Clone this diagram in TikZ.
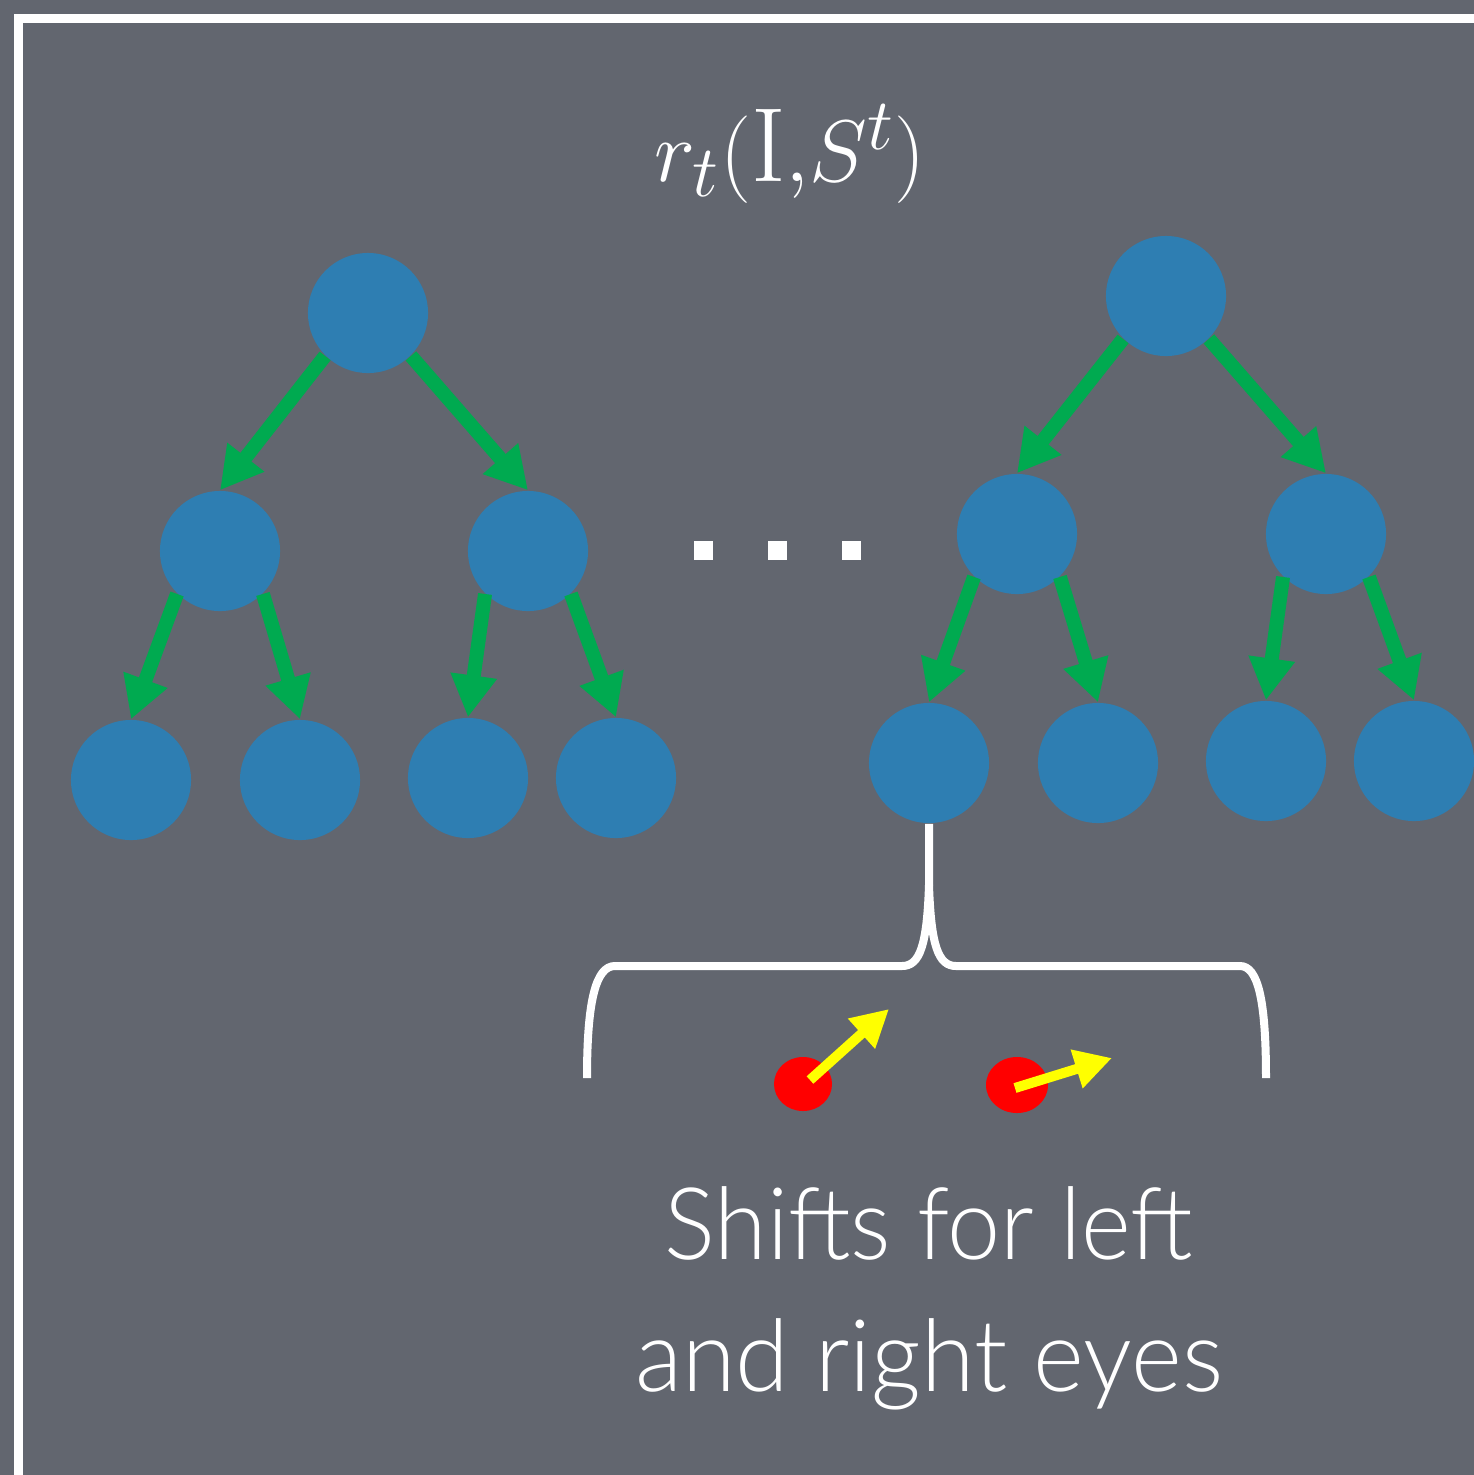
\documentclass[tikz,border=0pt]{standalone}
\usepackage{fontspec}
\newfontfamily\labelfont{Lato Light}
\usetikzlibrary{arrows.meta,shapes.geometric}
\definecolor{bg}{RGB}{98,102,111}
\definecolor{treeblue}{RGB}{46,126,178}
\definecolor{arrgreen}{RGB}{0,170,80}
\definecolor{shiftred}{RGB}{255,0,0}
\definecolor{shiftyellow}{RGB}{255,255,0}
\tikzset{
  tn/.style={circle, fill=treeblue, minimum size=1.2cm, inner sep=0pt},
  garrow/.style={draw=arrgreen, line width=0.14cm, -{Triangle[length=0.42cm,width=0.44cm]}},
  yarrow/.style={draw=shiftyellow, line width=0.10cm, -{Triangle[length=0.37cm,width=0.38cm]}},
  dotsq/.style={fill=white, minimum size=0.19cm, inner sep=0pt},
  reddot/.style={ellipse, fill=shiftred, inner sep=0pt},
}
\begin{document}
\begin{tikzpicture}[x=0.01cm,y=-0.01cm]
\useasboundingbox (0,0) rectangle (1474,1475);
\fill[bg] (0,0) rectangle (1474,1475);
\draw[white, line width=0.09cm] (18.5,18.5) rectangle (1520,1520);

% title
\node (title) at (790,154) {\fontsize{30}{36}\selectfont\color{white}$r_t(\mathrm{I}{,}S^t)$};

% left tree
\node[tn] (L0) at (368,313) {};
\node[tn] (L1) at (220,551) {};
\node[tn] (L2) at (528,551) {};
\node[tn] (L3) at (131,780) {};
\node[tn] (L4) at (300,780) {};
\node[tn] (L5) at (468,778) {};
\node[tn] (L6) at (616,778) {};
% right tree
\node[tn] (R0) at (1166,296) {};
\node[tn] (R1) at (1017,534) {};
\node[tn] (R2) at (1326,534) {};
\node[tn] (R3) at (929,763) {};
\node[tn] (R4) at (1098,763) {};
\node[tn] (R5) at (1266,761) {};
\node[tn] (R6) at (1414,761) {};

\foreach \p/\c in {L0/L1,L1/L3,L2/L5,R0/R1,R1/R3,R2/R5}
  \draw[garrow] (\p.-135) -- (\c.north);
\foreach \p/\c in {L0/L2,L1/L4,L2/L6,R0/R2,R1/R4,R2/R6}
  \draw[garrow] (\p.-45) -- (\c.north);

% dots
\node[dotsq] (d1) at (703,550) {};
\node[dotsq] (d2) at (777,550) {};
\node[dotsq] (d3) at (851,550) {};

% brace
\coordinate (bl) at (587,1078);
\coordinate (br) at (1266,1078);
\coordinate (bm) at (929,885);
\draw[white, line width=0.08cm] (bl) .. controls (587,1000) and (596,966) .. (615,966)
  -- (902,966) .. controls (920,966) and (927,945) .. (bm) -- (R3.south);
\draw[white, line width=0.08cm] (br) .. controls (1266,1000) and (1258,966) .. (1240,966)
  -- (956,966) .. controls (938,966) and (931,945) .. (bm);

% red dots and shifts
\node[reddot, minimum width=0.58cm, minimum height=0.54cm] (e1) at (803,1084) {};
\node[reddot, minimum width=0.62cm, minimum height=0.56cm] (e2) at (1017,1085) {};
\coordinate (t1) at (889,1009);
\coordinate (t2) at (1112,1058);
\draw[yarrow] (e1.center) ++(7,-4) -- (t1);
\draw[yarrow] (e2.center) ++(-2,3) -- (t2);

% caption
\node[align=center, text=white, font=\labelfont\fontsize{28.5}{37.5}\selectfont] (cap) at (929,1298) {\scalebox{0.95}[1]{Shifts for left}\\ \scalebox{0.97}[1]{and right eyes}};
\end{tikzpicture}
\end{document}
